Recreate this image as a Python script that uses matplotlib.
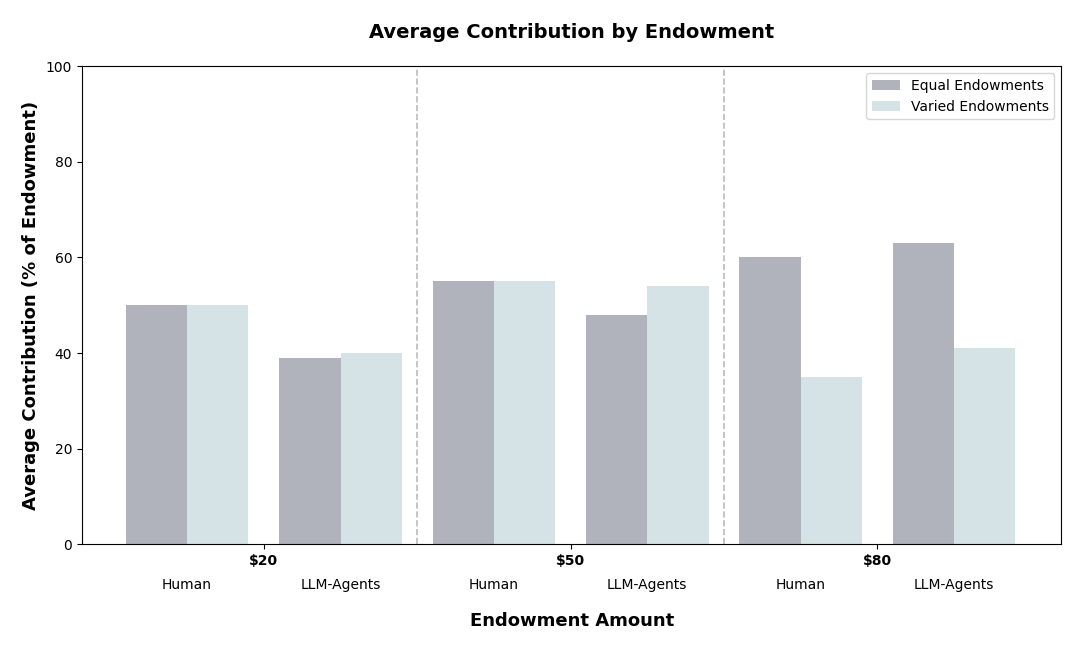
import numpy as np
import matplotlib.pyplot as plt
from matplotlib.transforms import blended_transform_factory

endowments = ['$20', '$50', '$80']
agents = ['Human', 'LLM-Agents']
equal_vals = [[50, 39], [55, 48], [60, 63]]
varied_vals = [[50, 40], [55, 54], [35, 41]]

fig, ax = plt.subplots(figsize=(10.92, 6.48), dpi=100)
fig.subplots_adjust(left=0.075, right=0.972, top=0.898, bottom=0.16)

width = 0.2
offsets = [-0.25, 0.25]
for g, _ in enumerate(endowments):
    for a, off in enumerate(offsets):
        x = g + off
        ax.bar(x - width / 2, equal_vals[g][a], width, color='#b0b3bb',
               label='Equal Endowments' if g == 0 and a == 0 else None)
        ax.bar(x + width / 2, varied_vals[g][a], width, color='#d5e3e6',
               label='Varied Endowments' if g == 0 and a == 0 else None)

for xv in [0.5, 1.5]:
    ax.axvline(xv, color='#bbbbbb', linestyle='--', linewidth=1.2)

ax.set_xlim(-0.593, 2.6)
ax.set_ylim(0, 100)
ax.set_xticks(range(len(endowments)))
ax.set_xticklabels(endowments, fontweight='bold')

trans = blended_transform_factory(ax.transData, ax.transAxes)
for g in range(len(endowments)):
    for a, off in enumerate(offsets):
        ax.text(g + off, -0.085, agents[a], transform=trans,
                ha='center', va='center', fontsize=10)

ax.set_title('Average Contribution by Endowment', fontsize=14,
             fontweight='bold', pad=20)
ax.set_xlabel('Endowment Amount', fontsize=13, fontweight='bold', labelpad=32)
ax.set_ylabel('Average Contribution (% of Endowment)', fontsize=13,
              fontweight='bold')
ax.legend(loc='upper right', fontsize=10)

plt.savefig('out.png')
